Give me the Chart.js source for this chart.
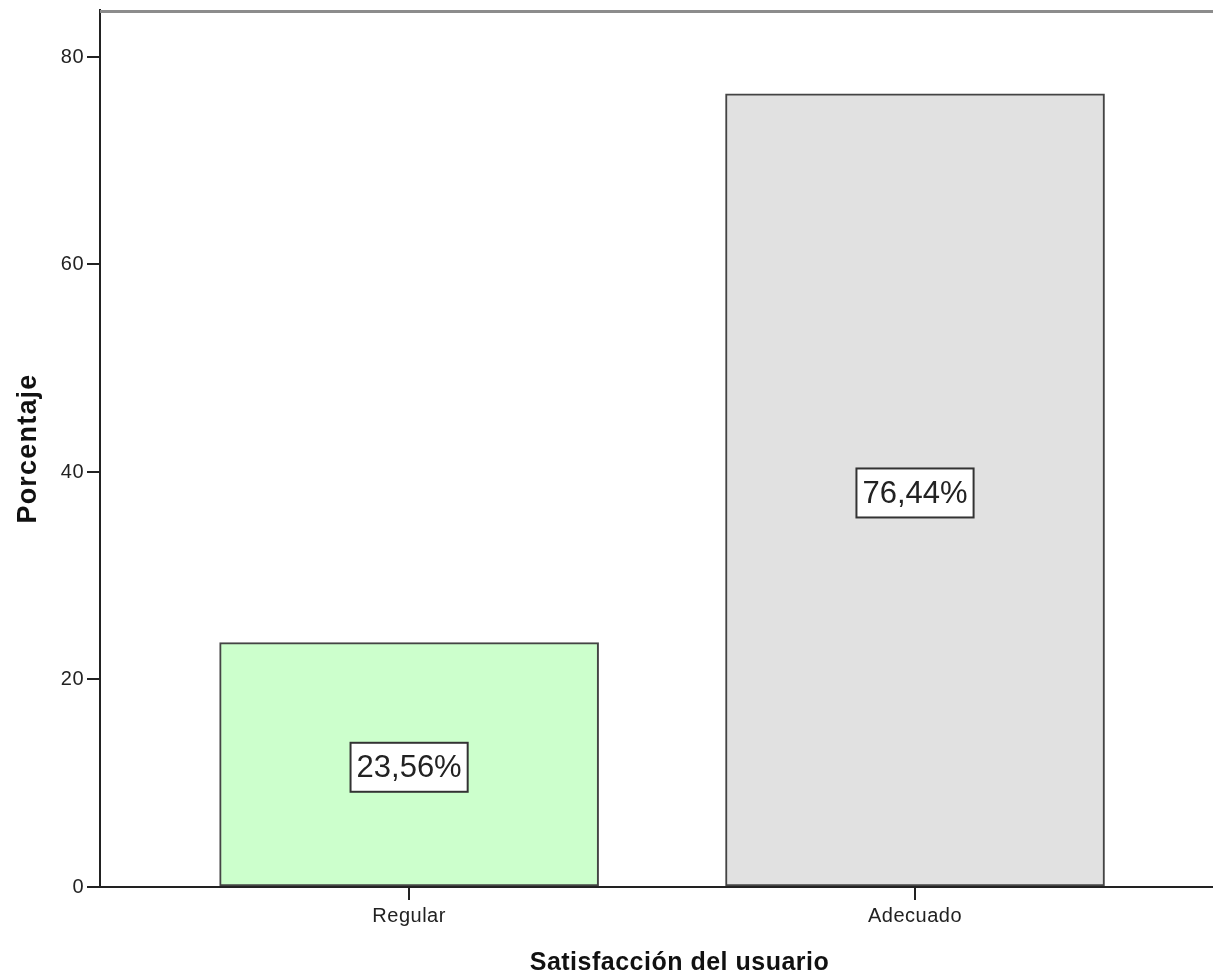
<!DOCTYPE html>
<html>
<head>
<meta charset="utf-8">
<script src="https://cdn.jsdelivr.net/npm/chart.js@4/dist/chart.umd.min.js"></script>
<style>
html,body{margin:0;padding:0;background:#fff;}
#wrap{width:1213px;height:978px;}
</style>
</head>
<body>
<div id="wrap"><canvas id="c" width="1213" height="978"></canvas></div>
<script>
const categories = ["Regular", "Adecuado"];
const percentages = [23.56, 76.44];
const valueLabels = ["23,56%", "76,44%"];
const yTicks = [0, 20, 40, 60, 80];
const barColors = ["#ccffcc", "#e1e1e1"];

const FONT = "'Liberation Sans', Arial, sans-serif";
const spacing = {
  x: { title: '0.5px', labels: '0.5px', shift: 23 },
  y: { title: '1.2px', labels: '0.5px', shift: 0 }
};

const letterSpacingPlugin = {
  id: 'letterSpacingPlugin',
  beforeDraw(chart) {
    const ctx = chart.ctx;
    ['x', 'y'].forEach(id => {
      const s = chart.scales[id];
      if (!s || s._lsWrapped) return;
      const dt = s.drawTitle.bind(s);
      const dl = s.drawLabels.bind(s);
      s.drawTitle = function (...a) {
        ctx.save();
        ctx.translate(spacing[id].shift, 0);
        ctx.letterSpacing = spacing[id].title;
        dt(...a);
        ctx.restore();
        ctx.letterSpacing = '0px';
      };
      s.drawLabels = function (...a) { ctx.letterSpacing = spacing[id].labels; dl(...a); ctx.letterSpacing = '0px'; };
      s._lsWrapped = true;
    });
  }
};

const frameAndLabels = {
  id: 'frameAndLabels',
  afterDatasetsDraw(chart) {
    const ctx = chart.ctx;
    const area = chart.chartArea;
    ctx.save();
    ctx.letterSpacing = '0px';
    // top frame line
    ctx.strokeStyle = '#8c8c8c';
    ctx.lineWidth = 3;
    ctx.beginPath();
    ctx.moveTo(area.left, area.top + 1.5);
    ctx.lineTo(chart.width, area.top + 1.5);
    ctx.stroke();
    // value label boxes
    const meta = chart.getDatasetMeta(0);
    ctx.font = '31px ' + FONT;
    ctx.textAlign = 'center';
    ctx.textBaseline = 'middle';
    meta.data.forEach((bar, i) => {
      const cx = bar.x;
      const cy = (bar.y + bar.base) / 2 + 3;
      const w = ctx.measureText(valueLabels[i]).width + 12;
      const h = 49;
      ctx.fillStyle = '#ffffff';
      ctx.fillRect(cx - w / 2, cy - h / 2, w, h);
      ctx.strokeStyle = '#333333';
      ctx.lineWidth = 2;
      ctx.strokeRect(cx - w / 2, cy - h / 2, w, h);
      ctx.fillStyle = '#222222';
      ctx.fillText(valueLabels[i], cx, cy + 1);
    });
    ctx.restore();
  }
};

new Chart(document.getElementById('c'), {
  type: 'bar',
  data: {
    datasets: [{
      data: categories.map((c, i) => ({ x: i, y: percentages[i] })),
      backgroundColor: barColors,
      borderColor: '#444444',
      borderWidth: 2,
      borderSkipped: false,
      barThickness: 379
    }]
  },
  options: {
    responsive: false,
    animation: false,
    devicePixelRatio: 1,
    layout: { padding: { top: 10, right: 0, left: 0, bottom: 0 } },
    plugins: { legend: { display: false }, tooltip: { enabled: false } },
    scales: {
      x: {
        type: 'linear',
        offset: false,
        min: -0.611,
        max: 1.589,
        afterBuildTicks(scale) { scale.ticks = categories.map((c, i) => ({ value: i })); },
        afterFit(scale) { scale.height = 91; scale.paddingLeft = 0; scale.paddingRight = 0; },
        ticks: {
          callback: (v) => categories[v],
          font: { family: FONT, size: 20 },
          color: '#222',
          padding: 4,
          maxRotation: 0,
          autoSkip: false
        },
        grid: { offset: false, drawOnChartArea: false, drawTicks: true, tickLength: 13, color: '#222', lineWidth: 2 },
        border: { display: true, color: '#222', width: 2 },
        title: {
          display: true,
          text: 'Satisfacción del usuario',
          font: { family: FONT, size: 25, weight: 'bold' },
          color: '#111',
          padding: { top: 0, bottom: 0 }
        }
      },
      y: {
        min: 0,
        max: 84.53,
        afterBuildTicks(scale) { scale.ticks = yTicks.map(v => ({ value: v })); },
        afterFit(scale) { scale.width = 100; scale.paddingTop = 0; scale.paddingBottom = 0; },
        ticks: {
          font: { family: FONT, size: 20 },
          color: '#222',
          padding: 3
        },
        grid: { drawOnChartArea: false, drawTicks: true, tickLength: 13, color: '#222', lineWidth: 2 },
        border: { display: true, color: '#222', width: 2 },
        title: {
          display: true,
          text: 'Porcentaje',
          font: { family: FONT, size: 27, weight: 'bold' },
          color: '#111',
          padding: { top: 12, bottom: 0 }
        }
      }
    }
  },
  plugins: [letterSpacingPlugin, frameAndLabels]
});
</script>
</body>
</html>
